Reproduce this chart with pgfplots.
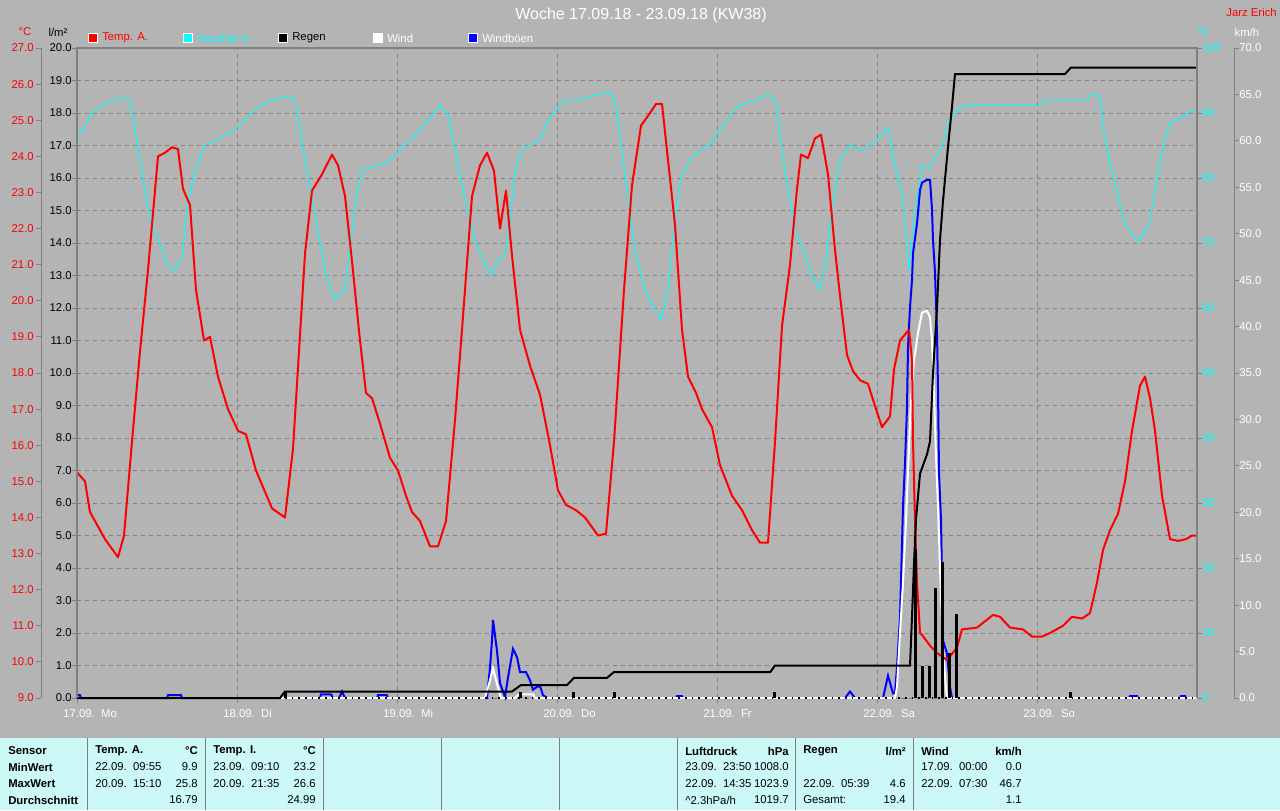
\documentclass[border=0pt]{standalone}
\usepackage{fontspec}
\setmainfont{Liberation Sans}
\usepackage{pgfplots}
\usepackage{pgfplotstable}
\pgfplotsset{compat=1.18}

\definecolor{bg}{RGB}{180,180,180}
\definecolor{tab}{RGB}{204,248,248}
\definecolor{frame}{RGB}{128,128,128}
\definecolor{cy}{RGB}{0,255,255}

\newcommand{\sm}{\fontsize{8.5}{10}\selectfont}

% hours since 17.09. 00:00
\pgfplotstableread{
h T
0 15.25
1.2 15.0
1.95 14.15
4.2 13.4
6.15 12.9
7.05 13.5
8.25 16.1
9.45 18.6
10.65 20.85
12.15 24.0
13.2 24.1
14.25 24.25
15.15 24.2
15.9 23.1
16.95 22.65
17.85 20.3
19.05 18.9
19.95 19.0
21.15 17.9
22.65 17.0
24.15 16.4
25.35 16.3
26.85 15.3
29.25 14.25
31.2 14.0
32.4 15.9
34.2 21.3
35.25 23.05
36.75 23.5
38.25 24.05
39.15 23.75
40.2 22.9
41.25 21.1
42.45 18.9
43.35 17.45
44.25 17.3
45.45 16.6
46.95 15.65
48.15 15.3
49.35 14.6
50.25 14.15
51.45 13.9
52.95 13.2
54.15 13.2
55.35 13.9
56.7 16.7
57.75 19.2
59.25 22.9
60.45 23.75
61.5 24.1
62.55 23.6
63.45 22.0
64.35 23.05
65.25 21.25
66.45 19.2
67.95 18.2
69.45 17.4
70.95 16.0
72.15 14.75
73.35 14.35
74.85 14.2
76.2 14.0
78.15 13.5
79.35 13.55
80.55 16.1
82.05 20.3
83.25 23.2
84.6 24.85
85.95 25.2
86.85 25.45
87.75 25.45
88.65 23.9
89.7 22.1
90.75 19.2
91.65 17.9
92.85 17.45
93.75 17.0
95.25 16.5
96.45 15.45
98.25 14.6
99.75 14.2
101.25 13.65
102.45 13.3
103.65 13.3
104.7 16.1
105.75 19.3
106.95 21.0
108.0 23.1
108.6 24.05
109.65 23.95
110.7 24.5
111.6 24.6
112.65 23.5
113.7 21.4
114.6 19.9
115.5 18.5
116.4 18.05
117.45 17.8
118.65 17.7
119.85 17.0
120.75 16.5
121.95 16.8
122.55 18.1
123.45 18.9
124.8 19.2
125.25 18.35
125.4 16.1
125.7 13.9
126.0 12.2
126.45 10.8
126.75 10.75
127.95 10.45
129.0 10.25
130.5 10.05
132.0 10.4
132.75 10.9
135.0 10.95
137.4 11.3
138.45 11.25
139.95 10.95
141.9 10.9
143.25 10.7
144.75 10.7
145.95 10.8
147.9 11.0
149.25 11.25
150.75 11.2
151.95 11.35
153.0 12.2
153.9 13.1
154.95 13.65
156.15 14.1
157.2 15.0
158.25 16.4
159.45 17.65
160.2 17.9
160.95 17.3
161.7 16.4
162.75 14.6
163.95 13.4
165.15 13.35
166.35 13.4
167.25 13.5
168 13.5
}\temp

\pgfplotstableread{
h H
0 86.6
1.2 87.7
1.95 89.7
3.0 90.5
4.5 91.5
6.15 92.3
7.35 92.3
7.95 92.0
9.45 82.8
10.95 73.5
12.15 70.5
13.65 66.6
14.7 65.8
15.75 67.7
16.5 75.1
17.7 81.2
19.2 85.1
20.7 85.8
22.2 86.6
23.7 87.4
25.2 88.9
26.7 90.5
28.2 91.5
30.15 92.2
31.95 92.6
32.7 92.0
34.2 82.8
35.7 74.3
37.2 65.8
38.7 61.2
40.2 62.8
40.95 68.9
41.7 75.8
42.75 81.2
43.95 81.5
45.45 82.0
46.95 82.8
48.45 84.3
49.95 85.8
51.45 87.4
52.95 89.2
54.45 91.2
55.65 89.7
56.7 84.3
58.2 76.6
59.7 70.5
61.2 66.6
62.25 65.1
63.15 67.4
64.2 68.2
64.95 73.5
65.7 81.2
66.75 84.3
67.95 85.1
69.45 85.8
70.65 88.9
71.85 90.5
73.2 92.0
75.45 92.0
77.7 92.8
79.95 93.1
80.7 92.0
82.2 80.5
83.7 68.9
85.2 62.8
86.7 59.7
87.6 58.2
88.65 62.8
89.7 73.5
90.45 79.7
91.95 82.8
93.45 84.3
94.95 85.1
96.45 87.4
97.95 89.7
99.45 91.2
101.7 92.0
103.65 92.8
104.7 92.0
106.2 81.2
107.7 72.0
109.2 68.2
110.25 65.1
111.45 62.8
112.35 67.4
113.25 75.8
114.45 82.8
115.95 85.1
117.45 84.3
118.95 84.8
121.65 87.8
122.7 82.0
123.9 76.6
124.8 65.8
125.4 72.5
126.75 82.0
127.8 81.5
129.75 84.8
130.95 89.4
132.9 91.1
135.45 91.2
144.45 91.2
145.2 92.0
151.2 92.0
152.7 93.1
153.45 92.0
154.2 85.8
155.7 78.9
157.2 72.8
159.15 70.2
160.2 71.7
160.95 73.5
162.0 79.7
162.9 84.8
163.95 88.5
165.45 89.2
166.5 90.0
168 90.5
}\hum

\pgfplotstableread{
h R
0 0
30.45 0
31.2 0.2
65.25 0.2
66.6 0.4
73.5 0.4
74.55 0.62
79.5 0.62
80.55 0.8
104.0 0.8
104.7 1.0
124.95 1.0
125.25 2.5
125.55 4.15
125.85 5.5
126.45 6.9
127.5 7.5
127.95 7.9
128.4 10.0
129.0 12.0
129.45 14.1
129.9 15.3
130.65 16.95
131.25 18.2
131.7 19.2
148.2 19.2
149.1 19.4
168 19.4
}\rainsum

\pgfplotstableread{
h R
31.2 0.2
66.45 0.2
74.4 0.2
80.55 0.2
104.55 0.2
125.7 4.6
126.75 1.0
127.8 1.0
128.7 3.4
129.75 4.2
130.8 1.4
131.85 2.6
148.95 0.2
}\rainbar

\pgfplotstableread{
h W
0 0
61.2 0
61.8 1.5
62.4 3.2
63.0 1.5
63.6 0
65.7 0
66.3 0.4
68.4 0.4
68.7 0
122.7 0
123.0 1.2
123.45 7.0
123.9 12.4
124.35 19.0
124.8 27.0
125.1 32.0
125.55 36.4
126.15 39.3
126.75 41.5
127.5 41.7
127.95 41.0
128.25 38.5
128.55 33.0
128.85 26.0
129.15 20.6
129.45 14.0
129.9 5.2
130.35 1.0
130.5 0
168 0
}\wind

\pgfplotstableread{
h G
0 0.3
0.45 0.3
0.6 0
13.5 0
13.65 0.3
15.6 0.3
15.75 0
36.45 0
36.6 0.4
38.1 0.4
38.4 0
39.3 0
39.75 0.7
40.2 0
45.0 0
45.15 0.3
46.5 0.3
46.65 0
61.5 0
61.95 3.3
62.25 6.2
62.4 8.4
63.0 5.1
63.45 1.6
64.2 0.1
64.65 2.2
65.4 5.3
66.0 4.4
66.45 2.8
67.35 2.8
67.95 1.9
68.4 0.9
69.0 1.2
69.45 1.3
69.9 0.3
70.35 0.1
70.5 0
89.85 0
90.0 0.2
90.75 0.2
90.9 0
115.2 0
115.95 0.7
116.7 0
120.9 0
121.65 2.4
122.4 0.5
122.7 0.6
123.0 3.3
123.45 8.7
123.9 20.6
124.2 25.3
124.5 31.3
124.65 37.8
124.95 42.1
125.25 45.0
125.4 47.9
126.0 51.1
126.45 54.7
126.75 55.5
127.5 55.8
127.95 55.8
128.25 52.6
128.4 49.3
128.7 45.8
129.0 39.3
129.15 33.2
129.3 24.2
129.6 19.2
129.9 6.2
130.5 4.8
130.95 1.2
131.25 0
157.8 0
157.95 0.2
159.0 0.2
159.15 0
165.45 0
165.6 0.2
166.2 0.2
166.35 0
168 0
}\gust

\pgfplotsset{
  base/.style={
    scale only axis, width=840pt, height=487.5pt,
    at={(57.75pt,-523.5pt)}, anchor=south west,
    xmin=0, xmax=168, clip=false,
    axis line style={draw=none},
    tick align=outside, major tick length=3.75pt,
    tick style={frame, line width=0.75pt},
    tick label style={font=\sm, inner sep=0pt},
    /pgf/number format/assume math mode=true,
  },
  onedec/.style={
    /pgf/number format/fixed,
    /pgf/number format/fixed zerofill,
    /pgf/number format/precision=1,
  },
}

\newcommand{\tl}[3]{\node[anchor=west, inner sep=0pt, font=\sm] at (#1,#2) {#3};}
\newcommand{\tr}[3]{\node[anchor=east, inner sep=0pt, font=\sm] at (#1,#2) {#3};}
\newcommand{\bl}[3]{\node[anchor=west, inner sep=0pt, font=\sm\bfseries] at (#1,#2) {#3};}
\newcommand{\br}[3]{\node[anchor=east, inner sep=0pt, font=\sm\bfseries] at (#1,#2) {#3};}

\begin{document}
\begin{tikzpicture}

% background, header and table (pixel coordinates)
\begin{scope}[x=0.75pt, y=-0.75pt]
  \fill[bg] (0,0) rectangle (1280,810);
  \node[white, font=\fontsize{12}{14}\selectfont] at (641,15) {Woche 17.09.18 - 23.09.18 (KW38)};
  \node[red, anchor=east, inner sep=0pt, font=\sm] at (1277,12) {Jarz Erich};

  \foreach \x/\c/\t/\tc in {88/red/Temp. A./red, 183/cy/Feuchte A./cy, 278/black/Regen/black, 373/white/Wind/white, 468/blue/Windböen/white}{
    \filldraw[fill=\c, draw=white, line width=0.75pt] (\x,33) rectangle ++(9,9);
    \node[anchor=west, inner sep=0pt, text=\tc, font=\sm] at (\x+14,38) {\t};
  }

  \node[red, font=\sm, inner sep=0pt] at (25,32) {°C};
  \node[black, font=\sm, inner sep=0pt] at (58,32) {l/m²};
  \node[cy, font=\sm, inner sep=0pt, anchor=west] at (1198,32) {\%};
  \node[white, font=\sm, inner sep=0pt] at (1247,32) {km/h};

  \draw[frame, line width=0.75pt] (41,48) -- (41,698);
  \draw[frame, line width=0.75pt] (1234,48) -- (1234,698);

  \fill[tab] (0,738) rectangle (1280,810);
  \foreach \x in {87,205,323,441,559,677,795,913}
    \draw[frame, line width=0.75pt] (\x,738) -- (\x,810);

  \bl{8}{751}{Sensor}
  \bl{8}{767}{MinWert}
  \bl{8}{784}{MaxWert}
  \bl{8}{800}{Durchschnitt}

  \bl{95}{751}{Temp. A.} \br{198}{751}{°C}
  \tl{95}{767}{22.09.\ \ 09:55} \tr{198}{767}{9.9}
  \tl{95}{784}{20.09.\ \ 15:10} \tr{198}{784}{25.8}
  \tr{198}{800}{16.79}

  \bl{213}{751}{Temp. I.} \br{316}{751}{°C}
  \tl{213}{767}{23.09.\ \ 09:10} \tr{316}{767}{23.2}
  \tl{213}{784}{20.09.\ \ 21:35} \tr{316}{784}{26.6}
  \tr{316}{800}{24.99}

  \bl{685}{751}{Luftdruck} \br{789}{751}{hPa}
  \tl{685}{767}{23.09.\ \ 23:50} \tr{789}{767}{1008.0}
  \tl{685}{784}{22.09.\ \ 14:35} \tr{789}{784}{1023.9}
  \tl{685}{800}{\textasciicircum2.3hPa/h} \tr{789}{800}{1019.7}

  \bl{803}{751}{Regen} \br{906}{751}{l/m²}
  \tl{803}{784}{22.09.\ \ 05:39} \tr{906}{784}{4.6}
  \tl{803}{800}{Gesamt:} \tr{906}{800}{19.4}

  \bl{921}{751}{Wind} \br{1022}{751}{km/h}
  \tl{921}{767}{17.09.\ \ 00:00} \tr{1022}{767}{0.0}
  \tl{921}{784}{22.09.\ \ 07:30} \tr{1022}{784}{46.7}
  \tr{1022}{800}{1.1}
\end{scope}

% grid, day labels, l/m2 scale
\begin{axis}[base, ymin=0, ymax=20,
  ytick={0,1,...,20}, ytick pos=left,
  xtick={0,24,...,144}, xtick pos=left,
  xticklabels={17.09.\ \ Mo, 18.09.\ \ Di, 19.09.\ \ Mi, 20.09.\ \ Do, 21.09.\ \ Fr, 22.09.\ \ Sa, 23.09.\ \ So},
  xticklabel style={white, anchor=north west, xshift=-10.5pt, yshift=-4.5pt},
  yticklabel style={black, anchor=east, onedec},
  grid=major, grid style={frame, line width=0.75pt, dash pattern=on 3pt off 3pt},
]
\end{axis}

% humidity
\begin{axis}[base, hide x axis, ymin=0, ymax=100,
  ytick={0,10,...,100}, ytick pos=right, yticklabel pos=right,
  yticklabel style={cy, anchor=west},
]
\addplot[cy, line width=0.75pt] table[x=h, y=H] {\hum};
\end{axis}

% wind and gusts
\begin{axis}[base, hide x axis, ymin=0, ymax=70,
  ytick={0,5,...,70}, ytick pos=right, yticklabel pos=right,
  tick style={xshift=27.75pt},
  yticklabel style={white, anchor=west, xshift=27.75pt, onedec},
]
\addplot[blue, line width=1.5pt] table[x=h, y=G] {\gust};
\addplot[white, line width=1.5pt] table[x=h, y=W] {\wind};
\end{axis}

% temperature
\begin{axis}[base, hide x axis, ymin=9, ymax=27,
  ytick={9,10,...,27}, ytick pos=left,
  tick style={xshift=-27pt},
  yticklabel style={red, anchor=east, xshift=-28.5pt, onedec},
]
\addplot[red, line width=1.5pt, line join=round] table[x=h, y=T] {\temp};
\end{axis}

% rain
\begin{axis}[base, hide axis, ymin=0, ymax=20]
\addplot[black, line width=1.5pt] table[x=h, y=R] {\rainsum};
\addplot[black, line width=1.5pt, dash pattern=on 1.2pt off 3.8pt] coordinates {(31.2,0) (168,0)};
\addplot[black, ycomb, line width=2.25pt] table[x=h, y=R] {\rainbar};
\draw[frame, line width=1.8pt] (rel axis cs:0,0) -- (rel axis cs:0,1) -- (rel axis cs:1,1) -- (rel axis cs:1,0);
\end{axis}

\pgfresetboundingbox
\path[use as bounding box] (0,0) rectangle (960pt,-607.5pt);
\end{tikzpicture}
\end{document}
